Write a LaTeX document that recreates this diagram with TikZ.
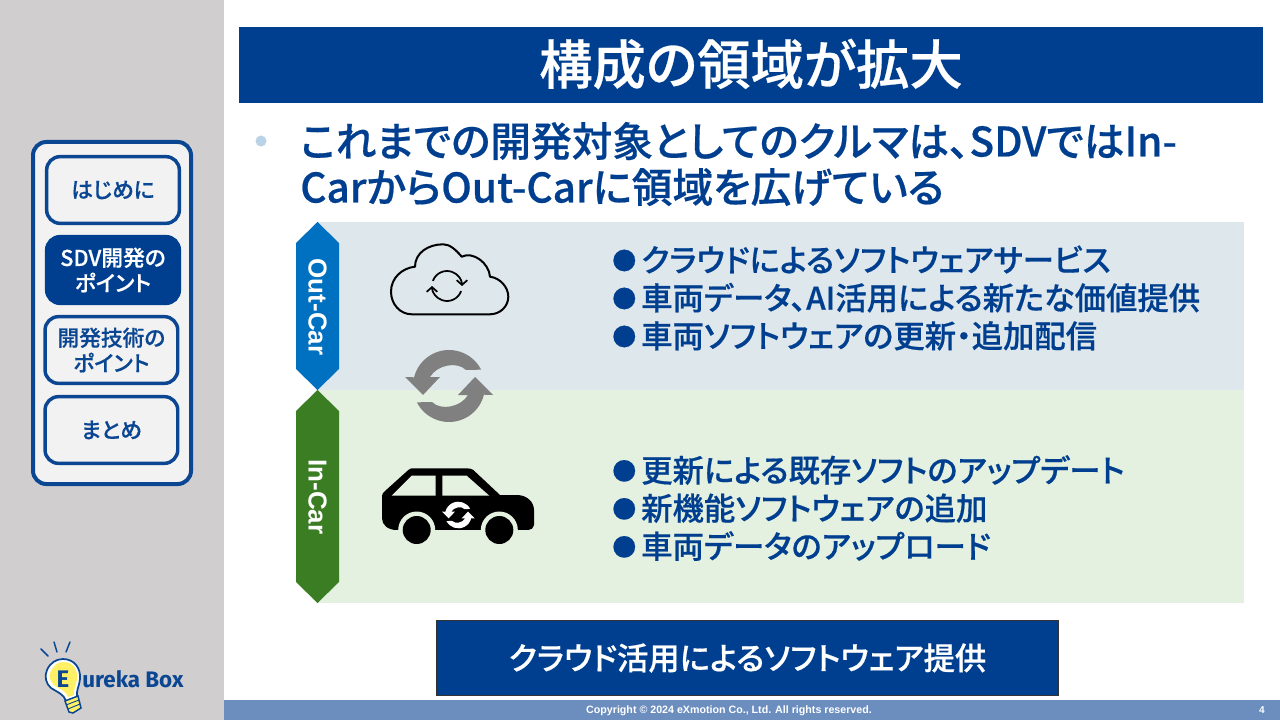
\documentclass[tikz,border=0pt]{standalone}
\usepackage{fontspec}
\setmainfont{Noto Sans CJK JP Medium}[RawFeature={+palt}, FakeBold=0.5]
\newfontfamily\arialfont{Liberation Sans}
\newfontfamily\logofont{Fira Sans}
\usetikzlibrary{arrows.meta,positioning}
\definecolor{navy}{HTML}{003F8F}
\definecolor{framecol}{HTML}{0B4693}
\definecolor{sidegray}{HTML}{D0CECE}
\definecolor{panelgray}{HTML}{F2F2F2}
\definecolor{footcol}{HTML}{6C8EBF}
\definecolor{outband}{HTML}{DDE7EC}
\definecolor{inband}{HTML}{E5F1E0}
\definecolor{outtag}{HTML}{0070C0}
\definecolor{intag}{HTML}{3B7D23}
\definecolor{bulbyellow}{HTML}{FFF066}
\definecolor{leaddot}{HTML}{B9D2E6}
\tikzset{
  menubox/.style={draw=framecol, line width=2.6pt, fill=panelgray, rounded corners=10pt,
    minimum width=99.5pt, minimum height=50pt, inner sep=0pt, align=center,
    text=framecol, font=\fontsize{16.3}{19}\selectfont},
  menuactive/.style={menubox, fill=navy, draw=navy, text=white},
  tagtext/.style={rotate=-90, text=white, font=\fontsize{19.5}{22}\arialfont\bfseries},
  itemlist/.style={anchor=west, align=left, inner sep=0pt, text=navy,
    font=\fontsize{23.5}{28.5}\selectfont},
}
\newcommand{\itemdot}{\makebox[21.75pt][l]{\raisebox{1.6pt}{\fontsize{18}{18}\selectfont ●}}}
\newcommand{\syncicon}[4]{
  \begin{scope}[shift={(#1,#2)}, scale=#3, fill=#4]
    \fill (-27:36) arc[start angle=-27, end angle=-166, radius=36] -- (-44,-9) -- (-26,9) -- (-9,-9) -- (-19,-9)
      .. controls (-12,-21) and (8,-25) .. (17,-16) -- cycle;
    \begin{scope}[rotate=180]
      \fill (-27:36) arc[start angle=-27, end angle=-166, radius=36] -- (-44,-9) -- (-26,9) -- (-9,-9) -- (-19,-9)
        .. controls (-12,-21) and (8,-25) .. (17,-16) -- cycle;
    \end{scope}
  \end{scope}
}
\begin{document}
\begin{tikzpicture}[x=0.75pt, y=-0.75pt, node distance = 60pt]
    \useasboundingbox (0,0) rectangle (1280,720);
    \fill[white] (0,0) rectangle (1280,720);
    \fill[sidegray] (0,0) rectangle (224,720);
    \fill[footcol] (224,700) rectangle (1280,720);
    \fill[navy] (239,27) rectangle (1263,103);
    \node[text=white, font=\fontsize{40}{44}\selectfont] (title) at (751,64) {構成の領域が拡大};

    % side menu
    \draw[framecol, line width=3pt, fill=panelgray, rounded corners=10pt] (33,142) rectangle (191,484);
    \node[menubox] (intro) at (113,190) {\raisebox{-1.5pt}{はじめに}};
    \node[menuactive] (sdv) [below of = intro] {SDV開発の\\ポイント};
    \node[menubox] (tech) [below of = sdv, xshift=-1.2pt] {開発技術の\\ポイント};
    \node[menubox] (summary) [below of = tech] {\raisebox{-1.5pt}{まとめ}};

    % lead sentence
    \fill[leaddot] (261,141) circle (5.5);
    \node[anchor=west, align=left, inner sep=0pt, text=navy, font=\fontsize{30.5}{34.5}\selectfont] (lead) at (300,164)
      {これまでの開発対象としてのクルマは、SDVではIn-\\CarからOut-Carに領域を広げている};

    % bands
    \fill[outband] (318,222) rectangle (1244,390);
    \fill[inband] (318,390) rectangle (1244,603);
    \fill[outtag] (317.5,222) -- (339,243) -- (339,369) -- (317.5,390) -- (296,369) -- (296,243) -- cycle;
    \fill[intag] (317.5,390) -- (339,411) -- (339,582) -- (317.5,603) -- (296,582) -- (296,411) -- cycle;
    \node[tagtext] (outcar) at (317.5,307) {Out-Car};
    \node[tagtext] (incar) at (317.5,497) {In-Car};

    % cloud
    \draw[black, line width=1.5pt, line join=round] (411.7,314.3) -- (490,314.3) .. controls (500,314.3) and (508.3,306.5) .. (508.3,296.7)
      .. controls (508.3,287) and (500,278) .. (490,276.7) .. controls (489,263) and (473,251) .. (461.7,256.7)
      .. controls (456,250) and (450,244.3) .. (443.3,244.3) .. controls (428,244.3) and (415,253) .. (415,266.7)
      .. controls (402,268) and (391,278) .. (391,291.7) .. controls (391,304) and (400,314.3) .. (411.7,314.3) -- cycle;
    \draw[black, line width=1.3pt, -{Straight Barb[length=3.5pt,width=8pt]}] (447,286) ++(-160:15) arc[start angle=-160, end angle=0, radius=15];
    \draw[black, line width=1.3pt, -{Straight Barb[length=3.5pt,width=8pt]}] (447,286) ++(20:15) arc[start angle=20, end angle=180, radius=15];

    % car
    \fill[black] (396.7,530) .. controls (388,530) and (382,525) .. (382,518.3) -- (382,496) .. controls (382,494) and (383,493) .. (385,491)
      -- (408.3,470) .. controls (410,468.5) and (411,468.3) .. (413.3,468.3) -- (466.7,468.3) .. controls (470,468.3) and (472,469) .. (473.3,470)
      -- (500,495) -- (516.7,495) .. controls (527,495) and (534,502) .. (534,510) -- (534,525) .. controls (534,528) and (531,530) .. (528.3,530) -- cycle;
    \fill[inband] (391.7,495.7) -- (411.7,475.7) -- (435.7,475.7) -- (435.7,495.7) -- cycle;
    \fill[inband] (442.3,475.7) -- (466.7,475.7) -- (489.3,495.7) -- (442.3,495.7) -- cycle;
    \fill[inband] (416.7,530) circle (18.5);
    \fill[inband] (499.3,530) circle (18.5);
    \fill[inband] (380,530) rectangle (536,552);
    \fill[black] (416.7,530) circle (14);
    \fill[black] (499.3,530) circle (14);
    \syncicon{458.3}{515}{0.37}{white}

    % big arrows between the bands
    \syncicon{449}{386}{1}{black!50}

    % item lists
    \node[itemlist] (outlist) at (612,298) {\itemdot クラウドによるソフトウェアサービス\\\itemdot 車両データ、AI活用による新たな価値提供\\\itemdot 車両ソフトウェアの更新・追加配信};
    \node[itemlist] (inlist) at (612,508) {\itemdot 更新による既存ソフトのアップデート\\\itemdot 新機能ソフトウェアの追加\\\itemdot 車両データのアップロード};

    % bottom box
    \node[draw=black!80, line width=1pt, fill=navy, text=white, minimum width=466pt, minimum height=56pt, font=\fontsize{23.5}{26}\selectfont]
      (result) at (747.5,658) {\raisebox{0.8pt}{クラウド活用によるソフトウェア提供}};

    % footer
    \node[text=white, font=\fontsize{8}{9}\arialfont\bfseries] (copyright) at (729,711) {Copyright © 2024 eXmotion Co., Ltd. All rights reserved.};
    \node[text=white, font=\fontsize{7.5}{9}\arialfont\bfseries] (pageno) at (1262,710) {4};

    % logo
    \draw[framecol, line width=1.1pt, line cap=round] (41,649) -- (48,656);
    \draw[framecol, line width=1.1pt, line cap=round] (54,642) -- (57,652);
    \draw[framecol, line width=1.1pt, line cap=round] (70,642) -- (66,652);
    \draw[framecol, line width=1.3pt, fill=white] (63,659) .. controls (74,659) and (81,668) .. (80,679) .. controls (79,687) and (76,691) .. (77,697)
      -- (66,701) .. controls (64,694) and (57,692) .. (51,688) .. controls (46,684) and (44,676) .. (47,670) .. controls (50,663) and (56,659) .. (63,659) -- cycle;
    \fill[bulbyellow] (64,662) .. controls (73,662) and (78,670) .. (77,679) .. controls (76,686) and (73,690) .. (74,695)
      -- (68,697) .. controls (66,691) and (60,689) .. (55,686) .. controls (50,682) and (48,675) .. (51,671) .. controls (54,665) and (58,662) .. (64,662) -- cycle;
    \draw[framecol, line width=1.1pt, fill=bulbyellow] (65,701) -- (78,696) -- (81,708) -- (73,713) -- (69,712) -- cycle;
    \draw[framecol, line width=0.7pt] (66,705) -- (79,700);
    \draw[framecol, line width=0.7pt] (68,709) -- (80,704);
    \node[text=framecol, font=\fontsize{18}{20}\logofont\bfseries] (logoe) at (63,679) {E};
    \node[anchor=west, inner sep=0pt, text=framecol, font=\fontsize{16.8}{18}\logofont\bfseries] (logotext) at (82,679) {ureka Box};
\end{tikzpicture}
\end{document}
